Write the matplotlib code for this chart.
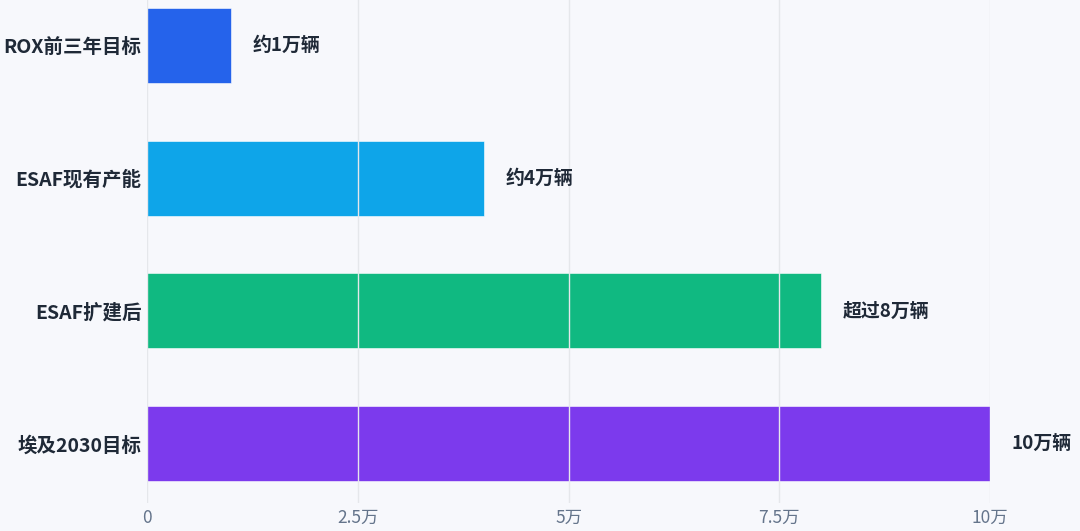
import matplotlib
matplotlib.use("Agg")
import matplotlib.pyplot as plt
import numpy as np

plt.rcParams['font.family'] = ['Noto Sans CJK SC', 'DejaVu Sans']

# data
categories = ["ROX前三年目标", "ESAF现有产能", "ESAF扩建后", "埃及2030目标"]
values = [1, 4, 8, 10]  # 万辆
value_labels = ["约1万辆", "约4万辆", "超过8万辆", "10万辆"]
colors = ["#2563eb", "#0ea5e9", "#10b981", "#7c3aed"]
xticks = [0, 2.5, 5, 7.5, 10]
xtick_labels = ["0", "2.5万", "5万", "7.5万", "10万"]

bg = "#f7f8fc"
fig = plt.figure(figsize=(10.8, 5.31), dpi=100, facecolor=bg)
ax = fig.add_axes([147/1080, 28/531, (990-147)/1080, 503/531])
ax.set_facecolor(bg)

y = np.arange(len(categories))
ax.barh(y, values, height=0.565, color=colors, edgecolor="white",
        linewidth=0.4, zorder=2)

# grid lines drawn over the bars
for t in xticks:
    ax.axvline(t, color="#e5e7eb", lw=1.0, zorder=3)

for yi, v, lab in zip(y, values, value_labels):
    ax.text(v + 0.25, yi, lab, va="center", ha="left", fontsize=13.6,
            fontweight="bold", color="#1f2937")

ax.set_xlim(0, 10)
ax.set_ylim(3.448, -0.343)
ax.set_yticks(y)
ax.set_yticklabels(categories, fontsize=14, fontweight="bold", color="#1f2937")
ax.set_xticks(xticks)
ax.set_xticklabels(xtick_labels, fontsize=12.5, color="#64748b")
ax.tick_params(axis="both", length=0)
ax.tick_params(axis="y", pad=4)
ax.tick_params(axis="x", pad=4)
for s in ax.spines.values():
    s.set_visible(False)

fig.savefig("out.png", dpi=100, facecolor=bg)
